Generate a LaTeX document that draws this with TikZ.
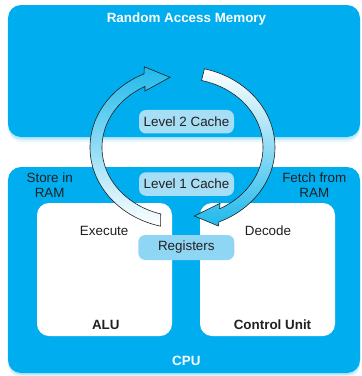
\documentclass[tikz,border=0pt]{standalone}
\usepackage{fontspec}
\setmainfont{Liberation Sans}
\definecolor{mainblue}{HTML}{00AEEF}
\definecolor{txt}{HTML}{231F20}
\definecolor{pill}{HTML}{A6DEF6}
\definecolor{regpill}{HTML}{8FD5F4}
\definecolor{arrowcyan}{HTML}{1FB9EC}
\begin{document}
\begin{tikzpicture}[x=1pt,y=-1pt,
  lbl/.style={font=\fontsize{13.4}{15.6}\selectfont, text=txt, inner sep=0pt},
  wlbl/.style={font=\fontsize{13.4}{15.6}\selectfont\bfseries, text=white, inner sep=0pt},
  blbl/.style={font=\fontsize{13.4}{15.6}\selectfont\bfseries, text=txt, inner sep=0pt},
  pillbox/.style={fill=pill, rounded corners=7pt, minimum width=95pt, minimum height=23.5pt,
    inner sep=0pt, font=\fontsize{13.4}{15.6}\selectfont, text=txt},
  cyclearrow/.style={draw=txt, line width=0.6pt, line join=miter},
  bigbox/.style={fill=mainblue, rounded corners=13pt},
  unitbox/.style={fill=white, rounded corners=12pt}
]
\useasboundingbox (0,0) rectangle (362,376);
% RAM box with soft shadow
\fill[mainblue!10, rounded corners=13pt] (8.5,9) rectangle (360,142);
\fill[mainblue!28, rounded corners=13pt] (8.2,7) rectangle (360,139.5);
\fill[bigbox] (8,5) rectangle (360,137);
% CPU box with soft shadow
\fill[mainblue!10, rounded corners=13pt] (8.5,171) rectangle (360,378);
\fill[mainblue!28, rounded corners=13pt] (8.2,169) rectangle (360,375);
\fill[bigbox] (8,167) rectangle (360,373);
% ALU and Control Unit
\fill[unitbox] (37,203) rectangle (172,336);
\fill[unitbox] (200,203) rectangle (335,336);
% labels
\node[wlbl, anchor=base] (ramlbl) at (186.5,22.3) {Random Access Memory};
\node[wlbl, anchor=base] (cpulbl) at (186.3,365.7) {CPU};
\node[lbl, align=center] (store) at (49.7,185) {Store in\\RAM};
\node[lbl, align=center] (fetch) at (314.3,185) {Fetch from\\RAM};
\node[lbl, anchor=base] (exec) at (104.2,235) {Execute};
\node[lbl, anchor=base] (dec) at (268,235) {Decode};
\node[blbl, anchor=base] (alu) at (105.8,329) {ALU};
\node[blbl, anchor=base] (cu) at (272.5,329) {Control Unit};
% pills
\node[pillbox] (l2) at (186.5,121.7) {Level 2 Cache};
\node[pillbox] (l1) at (186.5,184) {Level 1 Cache};
\node[pillbox, fill=regpill, minimum width=96pt, minimum height=25pt] (reg) at (186.3,247.5) {Registers};
% cycle arrows
\draw[cyclearrow, top color=arrowcyan, bottom color=white]
  plot[domain=103.7:245.4, samples=50, variable=\t] ({182.5+92.5*cos(\t)},{147.5+81*sin(\t)})
  -- (144.3,66.7) -- (170,77.3) -- (145,91)
  -- plot[domain=242.2:105.7, samples=50, variable=\t] ({182.5+80.5*cos(\t)},{147.5+69*sin(\t)})
  -- cycle;
\draw[cyclearrow, top color=white, bottom color=arrowcyan]
  plot[domain=-76.3:66.8, samples=50, variable=\t] ({182.5+92.5*cos(\t)},{147.5+81*sin(\t)})
  -- (218.3,226) -- (194.3,216) -- (220,203.3)
  -- plot[domain=62.6:-76.3, samples=50, variable=\t] ({182.5+80.5*cos(\t)},{147.5+69*sin(\t)})
  -- cycle;
\end{tikzpicture}
\end{document}
